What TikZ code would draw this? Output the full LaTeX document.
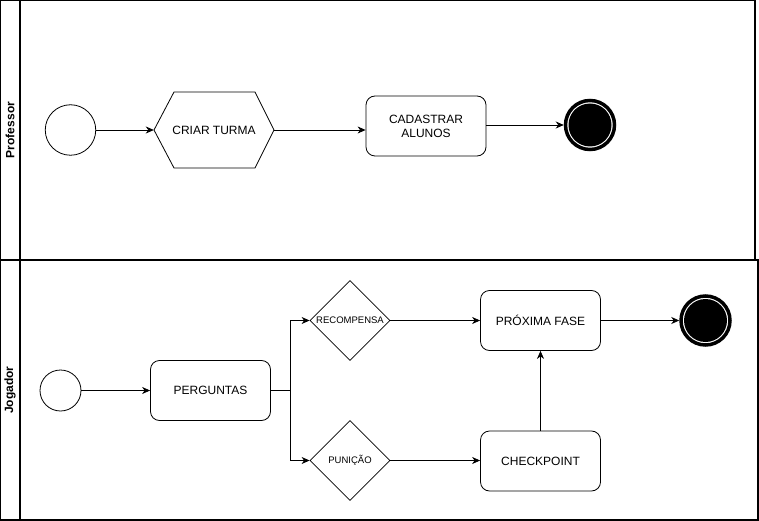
\documentclass[tikz,border=0pt]{standalone}
\usepackage{fontspec}
\setmainfont{Liberation Sans}
\usetikzlibrary{arrows.meta,shapes.geometric}
\begin{document}
\begin{tikzpicture}[x=1pt,y=-1pt,
  every node/.style={font=\fontsize{12}{14}\selectfont},
  pool/.style={draw=black,line width=1.1pt},
  startev/.style={draw,circle,line width=0.8pt,inner sep=0pt},
  endev/.style={draw,circle,line width=3.5pt,inner sep=0pt,minimum size=49pt,fill=white},
  task/.style={draw,rounded corners=9pt,line width=0.8pt,minimum width=120pt,minimum height=60pt,align=center,inner sep=0pt},
  gate/.style={draw,diamond,aspect=1,line width=0.8pt,minimum width=80pt,minimum height=80pt,inner sep=0pt,font=\fontsize{9.5}{11}\selectfont},
  flow/.style={-{Stealth[length=8pt,width=7pt,inset=2.5pt]},line width=0.8pt},
  lanelabel/.style={rotate=90,font=\bfseries\fontsize{12}{14}\selectfont}
]
\useasboundingbox (0,0) rectangle (759,521);
% pools
\draw[pool] (0.6,0.6) rectangle (755,260);
\draw[pool] (20,0.6) -- (20,260);
\draw[pool] (0.6,260) rectangle (758,520);
\draw[pool] (20,260) -- (20,520);
\node[lanelabel] (lp) at (10,130) {Professor};
\node[lanelabel] (lj) at (10,390) {Jogador};

% Professor lane
\node[startev,minimum size=50.5pt] (s1) at (70.5,130) {};
\draw[line width=0.8pt] (154,130) -- (174,92) -- (255,92) -- (274,130) -- (255,168) -- (174,168) -- cycle;
\node[inner sep=0pt,minimum width=120pt,minimum height=76pt] (criar) at (214,130) {CRIAR TURMA};
\node[task] (cad) at (426,126) {CADASTRAR\\ALUNOS};
\node[endev] (e1) at (590,125) {};
\fill (e1.center) circle (21.5);
\draw[flow] (s1) -- (criar.west);
\draw[flow] (criar.east) -- (cad.west |- criar.east);
\draw[flow] (cad.east |- e1) -- (e1);

% Jogador lane
\node[startev,minimum size=41pt] (s2) at (60.5,390.5) {};
\node[task] (perg) at (210.5,390.5) {PERGUNTAS};
\node[gate] (rec) at (350,320.5) {RECOMPENSA};
\node[gate] (pun) at (350,460.5) {PUNIÇÃO};
\node[task] (prox) at (540.5,320.5) {PRÓXIMA FASE};
\node[task] (chk) at (540.5,461) {CHECKPOINT};
\node[endev] (e2) at (705.5,320.5) {};
\fill (e2.center) circle (21.5);
\coordinate (j) at (290,390.5);
\draw[flow] (s2) -- (perg);
\draw[line width=0.8pt] (perg.east) -- (j);
\draw[flow] (j) |- (rec.west);
\draw[flow] (j) |- (pun.west);
\draw[flow] (rec.east) -- (prox.west |- rec.east);
\draw[flow] (pun.east) -- (chk.west |- pun.east);
\draw[flow] (chk.north) -- (prox.south);
\draw[flow] (prox.east) -- (e2);
\end{tikzpicture}
\end{document}
